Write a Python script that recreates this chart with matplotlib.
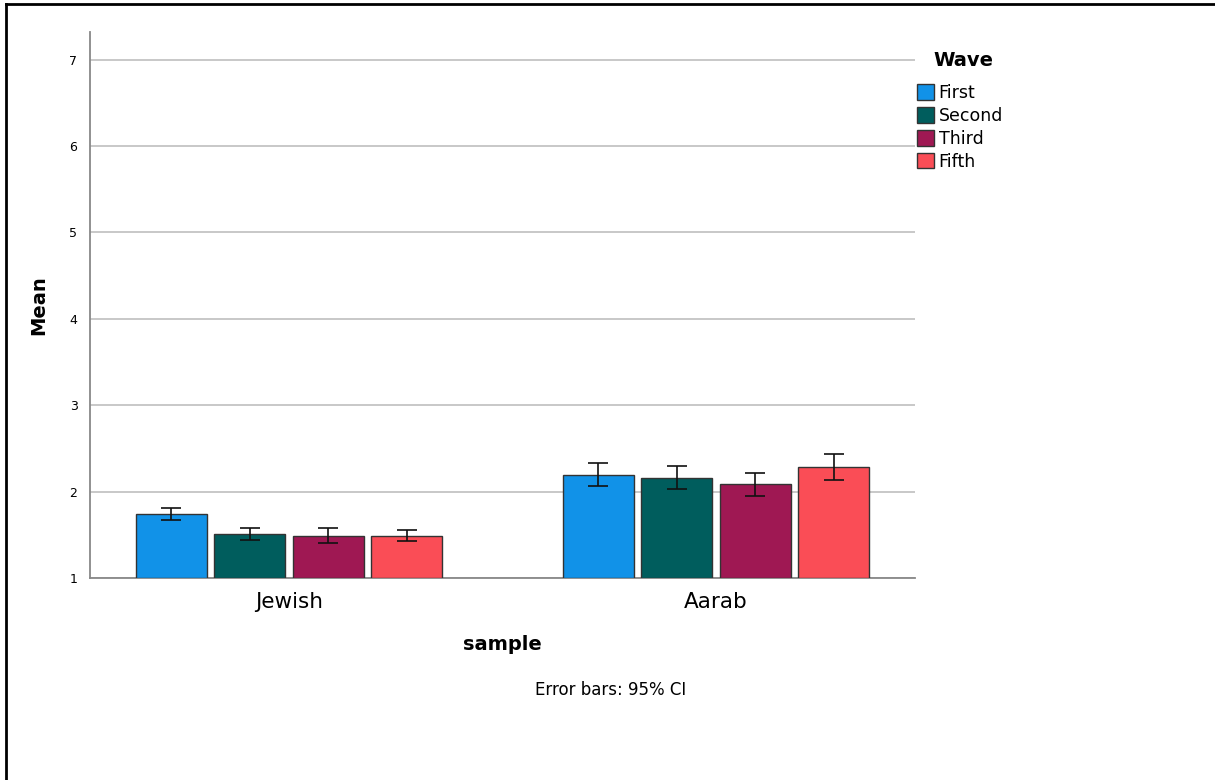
import numpy as np
import matplotlib.pyplot as plt
from matplotlib.lines import Line2D

# data
samples = ['Jewish', 'Aarab']
waves = ['First', 'Second', 'Third', 'Fifth']
colors = ['#1192E8', '#005D5D', '#9F1853', '#FA4D56']

mean_jewish = [1.74, 1.51, 1.49, 1.49]
mean_aarab = [2.19, 2.16, 2.085, 2.28]
lo_jewish = [1.675, 1.44, 1.41, 1.425]
hi_jewish = [1.807, 1.58, 1.58, 1.56]
lo_aarab = [2.06, 2.03, 1.95, 2.13]
hi_aarab = [2.33, 2.30, 2.22, 2.435]

means = np.array([mean_jewish, mean_aarab])
lows = np.array([lo_jewish, lo_aarab])
highs = np.array([hi_jewish, hi_aarab])

plt.rcParams['font.family'] = ['DejaVu Sans']

fig = plt.figure(figsize=(12.15, 7.8), dpi=100)
ax = fig.add_axes([90 / 1215, 1 - 578 / 780, 825 / 1215, 546 / 780])

x = np.arange(len(samples))
width = 0.166
step = 0.184
for i, w in enumerate(waves):
    pos = x + (i - 1.5) * step
    ax.bar(pos, means[:, i] - 1, width, bottom=1, color=colors[i],
           edgecolor='#333333', linewidth=1.0, label=w, zorder=3)
    err = [means[:, i] - lows[:, i], highs[:, i] - means[:, i]]
    ax.errorbar(pos, means[:, i], yerr=err, fmt='none', ecolor='#111111',
                elinewidth=1.2, capsize=7, capthick=1.2, zorder=4)

ax.set_xlim(-0.466, 1.466)
ax.set_ylim(1, 7.32)
ax.set_yticks([1, 2, 3, 4, 5, 6, 7])
ax.set_xticks(x)
ax.set_xticklabels(samples, fontsize=15.5)
ax.tick_params(axis='y', length=0, labelsize=9, pad=9)
ax.tick_params(axis='x', length=0, pad=10)
ax.yaxis.grid(True, color='#c8c8c8', linewidth=1.4, zorder=0)
ax.set_axisbelow(True)

for s in ['top', 'right']:
    ax.spines[s].set_visible(False)
ax.spines['left'].set_color('#888888')
ax.spines['bottom'].set_color('#888888')
ax.spines['left'].set_linewidth(1.3)
ax.spines['bottom'].set_linewidth(1.3)

ax.set_ylabel('Mean', fontsize=14, fontweight='bold', labelpad=15)
ax.set_xlabel('sample', fontsize=14, fontweight='bold', labelpad=17)

fig.text(611 / 1215, 1 - 690 / 780, 'Error bars: 95% CI', fontsize=12,
         ha='center', va='center')

# legend title drawn separately so the gap under it matches
fig.text(933 / 1215, 1 - 60 / 780, 'Wave', fontsize=14, fontweight='bold',
         ha='left', va='center')
leg = fig.legend(loc='upper left', bbox_to_anchor=(917 / 1215, 1 - 84 / 780),
                 frameon=False, fontsize=12.5, handlelength=1.0, handleheight=1.0,
                 handletextpad=0.25, labelspacing=0.28, borderpad=0,
                 borderaxespad=0)
for h in leg.legend_handles:
    h.set_edgecolor('#333333')

# frame lines on the top and left edges of the picture
fig.add_artist(Line2D([6 / 1215, 1], [1 - 4 / 780, 1 - 4 / 780],
                      transform=fig.transFigure, color='black', linewidth=2))
fig.add_artist(Line2D([6 / 1215, 6 / 1215], [0, 1 - 4 / 780],
                      transform=fig.transFigure, color='black', linewidth=2))

fig.savefig('out.png', dpi=100)
